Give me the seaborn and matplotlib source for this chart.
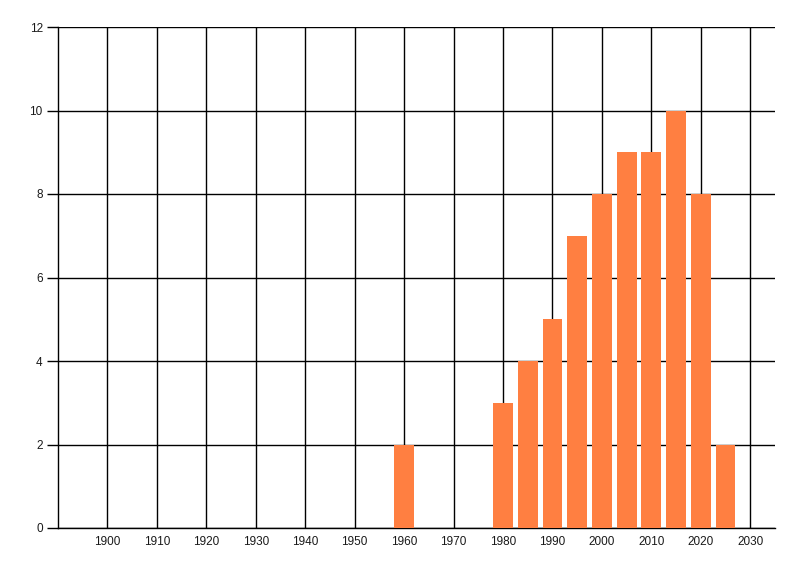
import numpy as np
import pandas as pd
import matplotlib
matplotlib.use('Agg')
import matplotlib.pyplot as plt
import seaborn as sns

# values
years = [1960, 1980, 1985, 1990, 1995, 2000, 2005, 2010, 2015, 2020, 2025]
counts = [2, 3, 4, 5, 7, 8, 9, 9, 10, 8, 2]
x_ticks = list(range(1900, 2031, 10))
y_ticks = [0, 2, 4, 6, 8, 10, 12]

df = pd.DataFrame({'year': years, 'count': counts})

sns.set_style('white')
plt.rcParams['font.family'] = ['Liberation Sans', 'DejaVu Sans']

fig = plt.figure(figsize=(8, 5.76), dpi=100)
ax = fig.add_axes([58 / 800, 48 / 576, 717 / 800, 501 / 576])

sns.barplot(data=df, x='year', y='count', native_scale=True, color='#FF7F41',
            saturation=1, width=0.8, edgecolor='none', linewidth=0, ax=ax, zorder=3)

ax.set_xlim(1890, 2035)
ax.set_ylim(0, 12)
ax.set_xticks(x_ticks)
ax.set_yticks(y_ticks)
ax.set_xticklabels([str(t) for t in x_ticks], fontsize=8.5, color='#1a1a1a')
ax.set_yticklabels([str(t) for t in y_ticks], fontsize=8.5, color='#1a1a1a')
ax.set_xlabel('')
ax.set_ylabel('')

ax.grid(True, color='black', linewidth=1.0, zorder=0)
ax.set_axisbelow(True)
for side in ['top', 'right']:
    ax.spines[side].set_visible(False)
for side in ['left', 'bottom']:
    ax.spines[side].set_color('black')
    ax.spines[side].set_linewidth(1.0)

ax.tick_params(axis='y', length=8, width=1, color='black', pad=3, left=True)
ax.tick_params(axis='x', length=0, pad=6)

fig.savefig('out.png', dpi=100)
plt.close('all')
